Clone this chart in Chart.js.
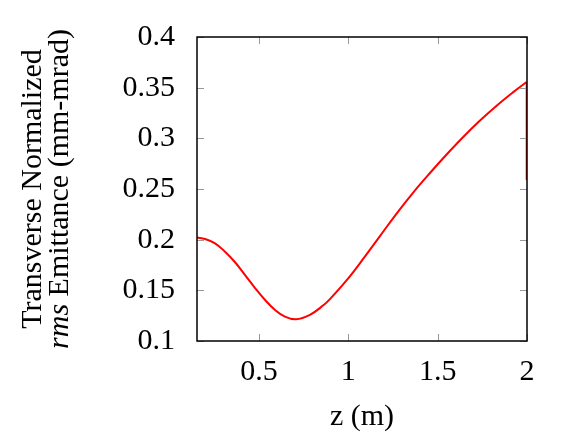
<!DOCTYPE html>
<html><head><meta charset="utf-8">
<script src="https://cdn.jsdelivr.net/npm/chart.js@4.4.0/dist/chart.umd.min.js"></script>
<style>html,body{margin:0;padding:0;background:#fff;}#wrap{width:581px;height:436px;}</style>
</head><body><div id="wrap"><canvas id="c" width="581" height="436"></canvas></div>
<script>
const zValues   = [0.153, 0.198, 0.254, 0.310, 0.366, 0.422, 0.478, 0.534, 0.590, 0.645, 0.707, 0.785, 0.860, 0.897, 0.991, 1.084, 1.177, 1.270, 1.363, 1.457, 1.550, 1.643, 1.737, 1.830, 1.923, 1.988, 1.997];
const emittance = [0.2021, 0.2007, 0.1964, 0.1881, 0.1777, 0.1651, 0.1523, 0.1405, 0.1306, 0.1240, 0.1214, 0.1258, 0.1352, 0.1413, 0.1600, 0.1812, 0.2035, 0.2258, 0.2465, 0.2658, 0.2840, 0.3013, 0.3175, 0.3322, 0.3456, 0.3543, 0.3555];
const dropZ      = [1.997, 1.997];
const dropValues = [0.3555, 0.2589];
const xTicks = [0.5, 1, 1.5, 2];
const yTicks = [0.1, 0.15, 0.2, 0.25, 0.3, 0.35, 0.4];
const xRange = [0.153, 2.0];
const yRange = [0.1, 0.4];
const xTitle = 'z (m)';
const yTitleLine1 = 'Transverse Normalized';
const yTitleLine2Italic = 'rms';
const yTitleLine2Rest = ' Emittance (mm-mrad)';

const FONT = 'Liberation Serif';
const FS = 30;

const frame = {
  id: 'frame',
  afterDatasetsDraw(chart) {
    const {ctx, chartArea: a, scales} = chart;
    ctx.save();
    ctx.strokeStyle = '#999';
    ctx.lineWidth = 1;
    const L = 7;
    ctx.beginPath();
    xTicks.forEach(v => {
      const x = Math.round(scales.x.getPixelForValue(v)) + 0.5;
      ctx.moveTo(x, a.bottom); ctx.lineTo(x, a.bottom - L);
      ctx.moveTo(x, a.top); ctx.lineTo(x, a.top + L);
    });
    yTicks.forEach(v => {
      const y = Math.round(scales.y.getPixelForValue(v)) + 0.5;
      ctx.moveTo(a.left, y); ctx.lineTo(a.left + L, y);
      ctx.moveTo(a.right, y); ctx.lineTo(a.right - L, y);
    });
    ctx.stroke();
    ctx.strokeStyle = '#000';
    ctx.lineWidth = 1.5;
    ctx.strokeRect(a.left, a.top, a.right - a.left, a.bottom - a.top);
    ctx.restore();
  },
  afterDraw(chart) {
    const ctx = chart.ctx;
    const cy = (chart.chartArea.top + chart.chartArea.bottom) / 2;
    ctx.save();
    ctx.fillStyle = '#000';
    ctx.textBaseline = 'middle';
    ctx.save();
    ctx.translate(33, cy);
    ctx.rotate(-Math.PI / 2);
    ctx.font = FS + 'px "' + FONT + '"';
    ctx.textAlign = 'center';
    ctx.fillText(yTitleLine1, 0, 0);
    ctx.restore();
    ctx.save();
    ctx.translate(60, cy);
    ctx.rotate(-Math.PI / 2);
    ctx.textAlign = 'left';
    ctx.font = 'italic ' + FS + 'px "' + FONT + '"';
    const w1 = ctx.measureText(yTitleLine2Italic).width;
    ctx.font = FS + 'px "' + FONT + '"';
    const w2 = ctx.measureText(yTitleLine2Rest).width;
    const start = -(w1 + w2) / 2;
    ctx.font = 'italic ' + FS + 'px "' + FONT + '"';
    ctx.fillText(yTitleLine2Italic, start, 0);
    ctx.font = FS + 'px "' + FONT + '"';
    ctx.fillText(yTitleLine2Rest, start + w1, 0);
    ctx.restore();
    ctx.restore();
  }
};

new Chart(document.getElementById('c'), {
  type: 'line',
  data: {
    datasets: [{
      data: zValues.map((z, i) => ({x: z, y: emittance[i]})),
      borderColor: '#ff0000',
      borderWidth: 2,
      pointRadius: 0,
      fill: false,
      tension: 0.4
    }, {
      data: dropZ.map((z, i) => ({x: z, y: dropValues[i]})),
      borderColor: '#ff0000',
      borderWidth: 1.5,
      pointRadius: 0,
      fill: false,
      tension: 0
    }]
  },
  options: {
    responsive: false,
    animation: false,
    devicePixelRatio: 1,
    layout: {padding: {left: 0, right: 54, top: 37, bottom: 0}},
    plugins: {legend: {display: false}, tooltip: {enabled: false}},
    scales: {
      x: {
        type: 'linear', min: xRange[0], max: xRange[1],
        afterBuildTicks: s => { s.ticks = xTicks.map(v => ({value: v})); },
        afterFit: s => { s.height = 95; s.paddingLeft = 0; s.paddingRight = 0; },
        grid: {display: false, drawTicks: false},
        border: {display: false},
        ticks: {color: '#000', padding: 13, font: {family: FONT, size: FS}, callback: v => String(v), maxRotation: 0, autoSkip: false},
        title: {display: true, text: xTitle, color: '#000', font: {family: FONT, size: FS}, padding: {top: 0, bottom: 1}}
      },
      y: {
        type: 'linear', min: yRange[0], max: yRange[1],
        afterBuildTicks: s => { s.ticks = yTicks.map(v => ({value: v})); },
        afterFit: s => { s.width = 197; s.paddingTop = 0; s.paddingBottom = 0; },
        grid: {display: false, drawTicks: false},
        border: {display: false},
        ticks: {color: '#000', padding: 22, font: {family: FONT, size: FS}, callback: v => String(v), autoSkip: false}
      }
    }
  },
  plugins: [frame]
});
</script>
</body></html>
